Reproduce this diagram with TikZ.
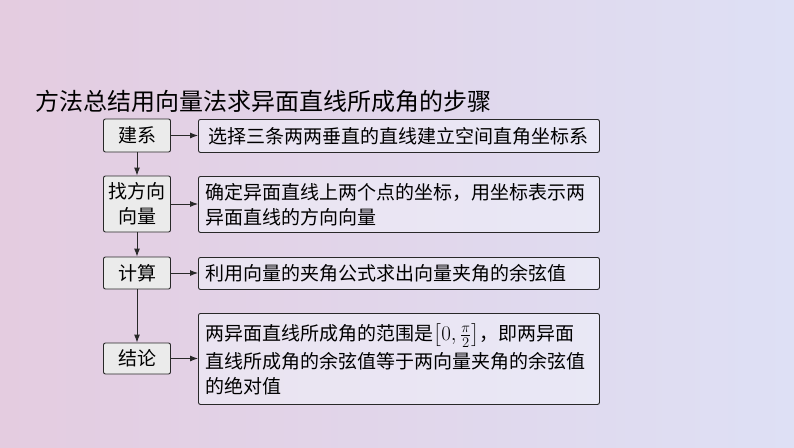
\RequirePackage{fix-cm}
\documentclass[tikz,border=0pt]{standalone}
\usepackage{amsmath}
\usepackage{xcolor}
\usepackage{fontspec}
\usepackage{tikz}
\usetikzlibrary{calc,arrows.meta}
\newfontfamily\cjk{Noto Sans CJK SC}
\definecolor{bgleft}{RGB}{228,204,224}
\definecolor{bgright}{RGB}{222,224,245}
\definecolor{boxline}{RGB}{40,40,40}
\tikzset{
  stepbox/.style={draw=boxline,fill=black!8,rounded corners=2pt,line width=0.9pt,
    minimum width=67pt,inner sep=0pt,align=center,font=\cjk\fontsize{19}{25}\selectfont},
  descbox/.style={draw=boxline,fill=white!60!bgright,fill opacity=0.55,text opacity=1,
    rounded corners=2pt,line width=0.9pt,minimum width=401pt,text width=387pt,
    inner xsep=7pt,inner ysep=0pt,align=left,anchor=north west,
    font=\cjk\fontsize{19}{25}\selectfont},
  link/.style={line width=0.9pt,draw=boxline,-{Latex[length=8pt,width=6pt]}}
}
\begin{document}
\begin{tikzpicture}[x=1pt,y=-1pt]
  \shade[left color=bgleft,right color=bgright] (0,0) rectangle (794,447);
  \useasboundingbox (0,0) rectangle (794,447);

  \node[anchor=base west,font=\cjk\fontsize{24}{28}\selectfont] (title) at (32,110)
    {方法总结用向量法求异面直线所成角的步骤};

  % left column
  \node[stepbox,minimum height=33pt] (jianxi) at (137,135.5) {建系};
  \node[stepbox,minimum height=56pt] (fangxiang) at (137,204) {找方向\\向量};
  \node[stepbox,minimum height=32pt] (jisuan) at (137,273) {计算};
  \node[stepbox,minimum height=31pt] (jielun) at (137,358.5) {结论};

  % right column
  \node[descbox,minimum height=33pt] (d1) at (198,119)
    {\hspace{3pt}选择三条两两垂直的直线建立空间直角坐标系};
  \node[descbox,minimum height=56pt] (d2) at (198,176)
    {确定异面直线上两个点的坐标，用坐标表示两\\异面直线的方向向量};
  \node[descbox,minimum height=32pt] (d3) at (198,257)
    {利用向量的夹角公式求出向量夹角的余弦值};
  \node[descbox,minimum height=91pt] (d4) at (198,313)
    {两异面直线所成角的范围是\scalebox{1.1}{$\bigl[0,\frac{\pi}{2}\bigr]$}，即两异面\\[3pt]
     直线所成角的余弦值等于两向量夹角的余弦值\\的绝对值};

  % arrows
  \draw[link] (jianxi) -- (jianxi -| d1.west);
  \draw[link] (fangxiang) -- (fangxiang -| d2.west);
  \draw[link] (jisuan) -- (jisuan -| d3.west);
  \draw[link] (jielun) -- (jielun -| d4.west);
  \draw[link] (jianxi) -- (fangxiang);
  \draw[link] (fangxiang) -- (jisuan);
  \draw[link] (jisuan) -- (jielun);
\end{tikzpicture}
\end{document}
